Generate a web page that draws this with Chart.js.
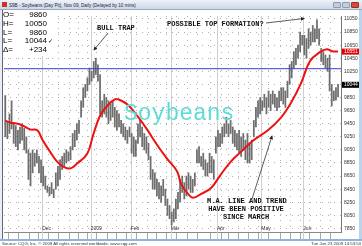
<!DOCTYPE html>
<html><head><meta charset="utf-8">
<script src="https://cdn.jsdelivr.net/npm/chart.js@4.4.1/dist/chart.umd.min.js"></script>
<style>
html,body{margin:0;padding:0;width:362px;height:246px;overflow:hidden;background:#fff;font-family:Arial,"Liberation Sans",sans-serif;}
#title{position:absolute;left:0;top:0;width:362px;height:10px;background:linear-gradient(#eef2f8,#cdd8e8);border-bottom:1px solid #9aa9bf;box-sizing:border-box;}
#title span{position:absolute;left:9px;top:2.5px;font-size:4.6px;line-height:5px;color:#223;white-space:nowrap}
#icon{position:absolute;left:2px;top:2px;width:5px;height:5px;background:#c8352a;}
.wb{position:absolute;top:2px;width:8px;height:6px;border-radius:1px;background:#c3cddb;border:1px solid #8d9bb1;box-sizing:border-box}
#frameR{position:absolute;left:359px;top:10px;width:3px;height:230px;background:#bcd3ec;}
#frameL{position:absolute;left:0;top:10px;width:3px;height:230px;background:#e8eef6;border-right:1px solid #667;box-sizing:border-box}
#footline{position:absolute;left:0;top:239px;width:362px;height:2px;background:#8fb4dc;}
#foot1{position:absolute;left:2px;top:241px;font-size:4.3px;line-height:5px;color:#333;white-space:nowrap}
#foot2{position:absolute;right:1px;top:241px;font-size:4.3px;line-height:5px;color:#333;white-space:nowrap}
#wrap{position:absolute;left:0;top:10px;width:362px;height:230px}
#info{position:absolute;left:3px;top:11px;width:54px;height:45px;background:#fff;font-size:8px;line-height:8.8px;color:#000;z-index:5}
#info div{position:relative;height:8.8px}
#info .l{position:absolute;left:0}
#info .v{position:absolute;right:10px}
.ann{position:absolute;font-family:"Liberation Mono","DejaVu Sans Mono",monospace;font-weight:bold;font-size:7px;line-height:8px;color:#111;white-space:nowrap;z-index:4}
#wm{position:absolute;left:124px;top:101px;font-family:"Liberation Mono","DejaVu Sans Mono",monospace;font-size:23px;line-height:26px;color:#5fdcd6;z-index:3;white-space:nowrap}
svg{position:absolute;left:0;top:0;z-index:4}
</style></head>
<body>
<div id="title"><div id="icon"></div><span>S9B - Soybeans (Day Pit), Nov 09, Daily (Delayed by 10 mins)</span>
<div class="wb" style="left:333px"></div><div class="wb" style="left:342px"></div><div class="wb" style="left:351px;background:#d8493c;border-color:#9b2a20"></div></div>
<div id="wrap"><canvas id="c" width="362" height="230"></canvas></div>
<div id="frameL"></div><div id="frameR"></div>
<div id="footline"></div>
<div id="foot1">Source: CQG, Inc. © 2009 All rights reserved worldwide. www.cqg.com</div>
<div id="foot2">Tue Jun 23 2009 14:53:54</div>
<div id="info">
<div><span class="l">O=</span><span class="v">9860</span></div>
<div><span class="l">H=</span><span class="v">10050</span></div>
<div><span class="l">L=</span><span class="v">9860</span></div>
<div><span class="l">L=</span><span class="v">10044</span><span style="position:absolute;left:45px;font-size:6px">✓</span></div>
<div><span class="l">Δ=</span><span class="v">+234</span></div>
</div>
<div id="wm">Soybeans</div>
<div class="ann" style="left:97px;top:24px">BULL TRAP</div>
<div class="ann" style="left:167px;top:20px">POSSIBLE TOP FORMATION?</div>
<div class="ann" style="left:207px;top:197px;text-align:center;width:78px">M.A. LINE AND TREND<br>HAVE BEEN POSITIVE<br>SINCE MARCH</div>
<svg width="362" height="246">
<defs><marker id="ah" markerWidth="5" markerHeight="5" refX="4" refY="2.5" orient="auto"><path d="M0,0 L5,2.5 L0,5 z" fill="#222"/></marker></defs>
<line x1="108" y1="33" x2="94" y2="50" stroke="#333" stroke-width="0.8" marker-end="url(#ah)"/>
<line x1="266" y1="23" x2="304" y2="18.5" stroke="#333" stroke-width="0.8" marker-end="url(#ah)"/>
<line x1="252" y1="199" x2="272" y2="136" stroke="#333" stroke-width="0.8" marker-end="url(#ah)"/>
</svg>
<script>
// ---- data (trading-day index 0 = Dec 01 2008) ----
const firstIdx = -18;
const highs = [9880,9470,9600,9800,9470,9420,9350,9400,9450,9380,9250,9050,9000,9050,9000,9050,8950,8900,
  8800,8650,8500,8480,8550,8450,8700,8800,8900,8950,9000,9050,9020,9100,9300,9350,9450,9500,9800,10000,
  10050,10150,10300,10250,10400,10450,10350,10200,9800,9900,9850,9800,9750,9800,9700,9650,9600,9500,
  9450,9400,9350,9400,9300,9250,9200,9450,9500,9400,9300,9250,9150,8950,8750,8700,8600,8550,8500,8600,
  8450,8300,8200,8100,8150,8300,8400,8600,8650,8550,8650,8700,8650,8600,8700,9050,9100,8950,9000,8900,
  8850,9000,8950,8900,9250,9350,9300,9400,9450,9550,9450,9500,9400,9350,9300,9350,9250,9300,9200,9300,
  9150,9200,9500,9700,9800,9850,9800,9900,9850,9950,9900,9950,9900,9850,9950,10000,10000,9950,10100,
  10350,10400,10550,10600,10650,10850,10800,10800,10750,10900,10850,10950,10900,11035,10900,10600,10550,
  10500,10450,10500,10050,9950,10000,10050];
const lows = [9250,9220,9300,9370,9150,9100,9050,9150,9200,9050,9000,8600,8500,8700,8800,8850,8700,8550,
  8500,8450,8400,8350,8380,8320,8450,8500,8600,8750,8800,8850,8880,8900,9050,9100,9200,9300,9550,9700,
  9850,9950,10050,10100,10150,10200,10100,9600,9550,9600,9550,9450,9500,9550,9400,9350,9400,9300,
  9250,9200,9150,9250,9000,8950,8950,9150,9250,9100,9050,9000,8900,8600,8450,8450,8350,8300,8250,8350,
  8200,8050,8000,7900,7950,8000,8150,8250,8400,8300,8350,8450,8400,8400,8500,8850,8850,8800,8750,8650,
  8650,8700,8700,8600,9000,9100,9100,9150,9250,9300,9250,9300,9150,9100,9050,9000,8950,9050,8900,8850,
  8850,8900,9250,9400,9550,9600,9650,9700,9600,9700,9650,9750,9700,9650,9700,9800,9750,9700,9850,
  10050,10150,10300,10350,10450,10550,10650,10500,10450,10600,10650,10700,10700,10750,10650,10400,10350,
  10300,10250,9950,9720,9800,9810,9860];
const maIdx = [-18,-15.7,-10.9,-6.2,-2.8,-0.5,3.3,6.6,9.5,12.8,16.1,20.9,23.7,27,30.4,34.2,36.5,40.3,44.6,
  49.3,54.1,58.8,63.6,65.5,68.8,71.2,75,79.7,84.4,89.1,93.9,100,106.7,112.9,117.6,122.4,126.7,131.4,134.7,137.1,140];
const maVal = [9498,9468,9438,9364,9349,9214,9020,8871,8796,8766,8841,8990,9274,9572,9722,9826,9811,9737,9572,
  9363,9125,8916,8722,8528,8378,8319,8378,8468,8677,8871,9020,9200,9349,9543,9766,10065,10408,10543,10587,10558,10551];
const resistance = 10290;
const yTicks = [7850,8050,8250,8450,8650,8850,9050,9250,9450,9650,9850,10050,10250,10450,10650,10850,11050];
const weekIdx = [-14,-9,-4,0,5,10,15,19,23,28,33,37,42,47,52,56,61,66,71,76,83,86,90,95,100,104,110,115,120,124,129,134,139];
const weekLbl = ['10','17','24','01','08','15','22','29','05','12','20','26','02','09','17','23','02','09','16','23','01','06','13','20','27','01','11','18','26','01','08','15','22'];
const monthIdx = [0,23,42,61,83,104,124];
const monthLbl = ['Dec','2009','Feb','Mar','Apr','May','Jun'];
const lastMA = 10551, lastClose = 10044;

const xMin = -18.6, xMax = 141.4, yMin = 7796, yMax = 11095;
const bars = highs.map((h,k)=>({x:firstIdx+k, y:[lows[k], h]}));
const maPts = maIdx.map((x,k)=>({x, y:maVal[k]}));

const extras = {
  id:'extras',
  beforeDatasetsDraw(chart){
    const {ctx, chartArea:a, scales:{x}} = chart;
    ctx.save(); ctx.strokeStyle='#cfcfcf'; ctx.lineWidth=1;
    monthIdx.forEach(m=>{const px=Math.round(x.getPixelForValue(m-0.5))+0.5;
      ctx.beginPath(); ctx.moveTo(px,a.top); ctx.lineTo(px,a.bottom+8); ctx.stroke();});
    ctx.restore();
  },
  afterDraw(chart){
    const {ctx, chartArea:a, scales:{x,y}} = chart;
    ctx.save();
    ctx.font='5px Arial'; ctx.fillStyle='#333'; ctx.textBaseline='bottom'; ctx.textAlign='left';
    monthIdx.forEach((m,k)=>{ctx.fillText(monthLbl[k], x.getPixelForValue(m)-1, a.bottom-0.5);});
    const tag=(v,bg)=>{const py=y.getPixelForValue(v);
      ctx.fillStyle=bg; ctx.fillRect(a.right+1, py-3, 19, 6);
      ctx.fillStyle='#fff'; ctx.textBaseline='middle'; ctx.fillText(String(v), a.right+3, py+0.3);};
    tag(lastMA,'#e00000'); tag(lastClose,'#000');
    ctx.restore();
  }
};

new Chart(document.getElementById('c'), {
  type:'bar',
  data:{datasets:[
    {type:'line', data:maPts, borderColor:'#ee1111', borderWidth:2, pointRadius:0, tension:0.4, order:0},
    {type:'line', data:[{x:xMin,y:resistance},{x:xMax,y:resistance}], borderColor:'#3b3bd6', borderWidth:1, pointRadius:0, order:1},
    {type:'bar', data:bars, backgroundColor:'#6e6e6e', barThickness:1.1, grouped:false, order:2}
  ]},
  options:{
    responsive:false, animation:false, devicePixelRatio:1,
    layout:{padding:{left:4,top:1,right:0,bottom:0}},
    plugins:{legend:{display:false}, tooltip:{enabled:false}},
    scales:{
      x:{type:'linear', min:xMin, max:xMax, offset:false,
        afterBuildTicks:s=>{s.ticks=weekIdx.map(v=>({value:v}));},
        afterFit:s=>{s.height=8;},
        ticks:{callback:v=>{const k=weekIdx.indexOf(v); return k>=0?weekLbl[k]:'';}, font:{size:5,family:'Arial'}, color:'#333',
          align:'start', labelOffset:1.5, padding:0, maxRotation:0, autoSkip:false},
        grid:{color:'#b0b0b0', drawTicks:true, tickLength:7, tickColor:'#aaa', tickBorderDash:[]},
        border:{display:true, color:'#888', dash:[1,5]}
      },
      y:{position:'right', min:yMin, max:yMax,
        afterBuildTicks:s=>{s.ticks=yTicks.map(v=>({value:v}));},
        afterFit:s=>{s.width=21;},
        ticks:{font:{size:5,family:'Arial'}, color:'#333', padding:3, callback:v=>String(v)},
        grid:{color:'#b0b0b0', drawTicks:false},
        border:{display:true, color:'#777', dash:[1,5]}
      }
    }
  },
  plugins:[extras]
});
</script>
</body></html>
